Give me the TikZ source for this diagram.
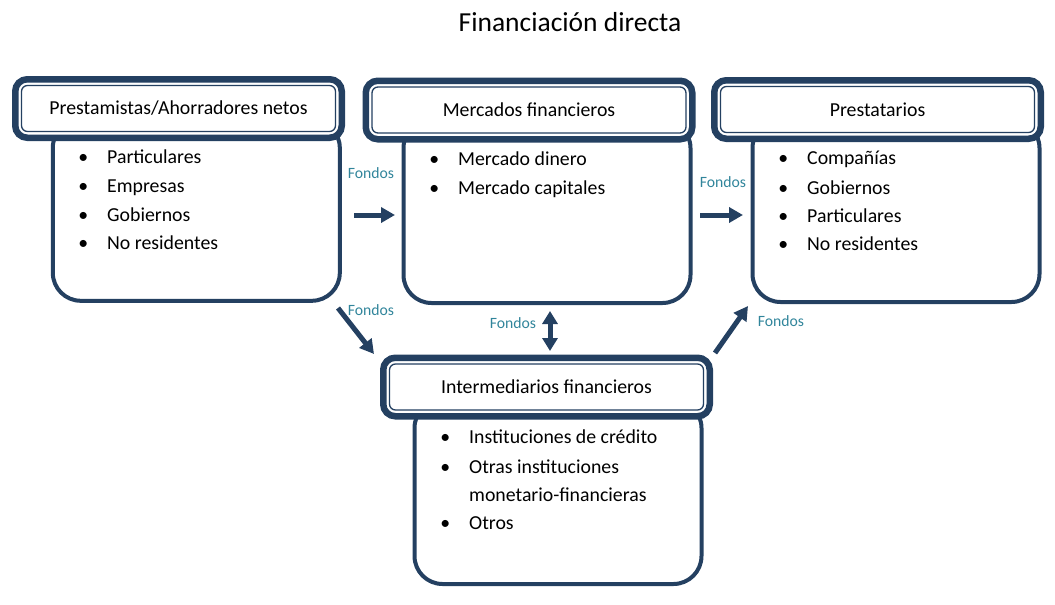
\documentclass[tikz,border=0pt]{standalone}
\usepackage{fontspec}
\setmainfont{Carlito}
\usetikzlibrary{arrows.meta}
\definecolor{navy}{RGB}{36,64,97}
\definecolor{teal5}{RGB}{49,133,155}
\newcommand\bul{\llap{\makebox[0pt]{\textbullet}\hspace{24pt}}}
\begin{document}
\begin{tikzpicture}[x=1pt,y=-1pt,
  hdr/.style={draw=navy, line width=6.5pt, rounded corners=12pt, fill=white, inner sep=0pt, minimum width=326.5pt, minimum height=58.5pt},
  hin/.style={draw=navy, line width=1.3pt, rounded corners=6pt, inner sep=0pt, minimum width=314pt, minimum height=46pt, font=\fontsize{19.8}{23}\selectfont},
  bodybox/.style={draw=navy, line width=4pt, rounded corners=28pt, fill=white, inner sep=0pt, minimum width=287pt, minimum height=#1},
  item/.style={anchor=base west, inner sep=0pt, font=\fontsize{19.8}{23}\selectfont},
  fondo/.style={text=teal5, inner sep=0pt, font=\fontsize{15.7}{18}\selectfont},
  arr/.style={navy, line width=5pt, -{Triangle[length=14pt,width=15pt]}},
  darr/.style={navy, line width=5pt, {Triangle[length=13pt,width=15pt]}-{Triangle[length=13pt,width=15pt]}}
]
\useasboundingbox (0,0) rectangle (1055,605);

\node[inner sep=0pt, font=\fontsize{27.5}{32}\selectfont] (title) at (570,22) {Financiación directa};

% bodies
\node[bodybox=181pt] (b1) at (196.3,210.3) {};
\node[bodybox=183pt] (b2) at (547,211.5) {};
\node[bodybox=182pt] (b3) at (896,211) {};
\node[bodybox=184pt] (b4) at (558,492) {};

% headers
\node[hdr] (h1) at (178.5,108.5) {};
\node[hin] (h1i) at (h1.center) {Prestamistas/Ahorradores netos};
\node[hdr] (h2) at (529,110) {};
\node[hin] (h2i) at (h2.center) {Mercados financieros};
\node[hdr] (h3) at (877.5,109.5) {};
\node[hin] (h3i) at (h3.center) {Prestatarios};
\node[hdr] (h4) at (546.5,387) {};
\node[hin] (h4i) at (h4.center) {Intermediarios financieros};

% lists
\node[item] (l1a) at (107,163) {\bul Particulares};
\node[item] (l1b) at (107,192) {\bul Empresas};
\node[item] (l1c) at (107,221) {\bul Gobiernos};
\node[item] (l1d) at (107,249) {\bul No residentes};

\node[item] (l2a) at (458,165) {\bul Mercado dinero};
\node[item] (l2b) at (458,194) {\bul Mercado capitales};

\node[item] (l3a) at (807,164) {\bul Compañías};
\node[item] (l3b) at (807,194) {\bul Gobiernos};
\node[item] (l3c) at (807,222) {\bul Particulares};
\node[item] (l3d) at (807,250) {\bul No residentes};

\node[item] (l4a) at (469,443) {\bul Instituciones de crédito};
\node[item] (l4b) at (469,473) {\bul Otras instituciones};
\node[item] (l4c) at (469,501) {monetario-financieras};
\node[item] (l4d) at (469,529) {\bul Otros};

% arrow end points
\coordinate (a1s) at (354,215); \coordinate (a1e) at (395,215);
\coordinate (a2s) at (700,215); \coordinate (a2e) at (743,215);
\coordinate (a3s) at (338,308); \coordinate (a3e) at (374,354);
\coordinate (a4s) at (550,311); \coordinate (a4e) at (550,351);
\coordinate (a5s) at (715,353); \coordinate (a5e) at (748,306);

\draw[arr] (a1s) -- (a1e);
\draw[arr] (a2s) -- (a2e);
\draw[arr] (a3s) -- (a3e);
\draw[darr] (a4s) -- (a4e);
\draw[arr] (a5s) -- (a5e);

\node[fondo] (f1) at (371,173) {Fondos};
\node[fondo] (f2) at (723,182) {Fondos};
\node[fondo] (f3) at (371,310) {Fondos};
\node[fondo] (f4) at (513,323) {Fondos};
\node[fondo] (f5) at (781,321) {Fondos};
\end{tikzpicture}
\end{document}
